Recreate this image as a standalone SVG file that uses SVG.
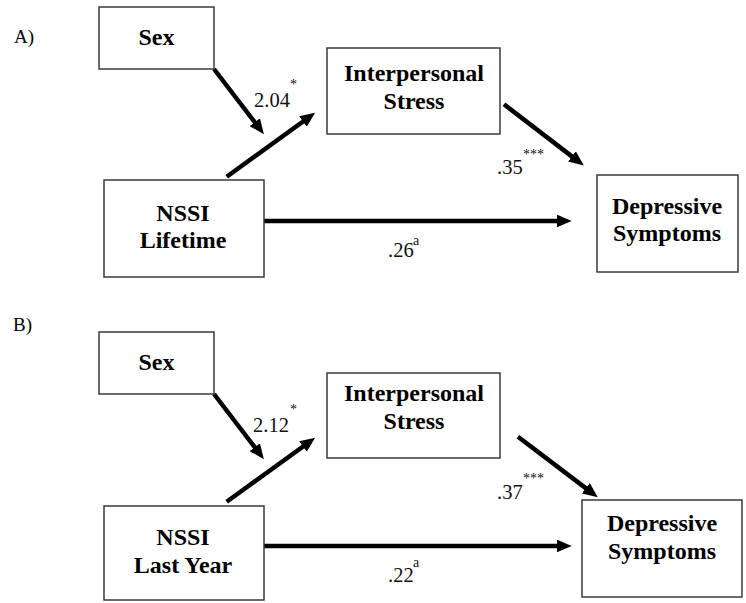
<svg xmlns="http://www.w3.org/2000/svg" width="746" height="603" viewBox="0 0 746 603">
<defs>
<marker id="ah" markerUnits="userSpaceOnUse" markerWidth="16" markerHeight="14" refX="4" refY="6.5" orient="auto">
<path d="M0,0 L15,6.5 L0,13 z" fill="#000"/>
</marker>
<style>
.box{fill:#fff;stroke:#3a3a3a;stroke-width:1.5}
.lbl{font-family:"Liberation Serif","Times New Roman",serif;font-weight:bold;font-size:24px;text-anchor:middle;fill:#000}
.coef{font-family:"Liberation Serif","Times New Roman",serif;font-size:20.5px;fill:#111}
.sup{font-family:"Liberation Serif","Times New Roman",serif;font-size:14px;fill:#111}
.panel{font-family:"Liberation Serif","Times New Roman",serif;font-size:19px;fill:#000}
.arr{stroke:#000;stroke-width:4.5;fill:none;marker-end:url(#ah)}
</style>
</defs>
<rect width="746" height="603" fill="#fff"/>
<text class="panel" x="14" y="43">A)</text>
<text class="panel" x="13" y="331">B)</text>
<g id="connectors">
<line class="arr" x1="214" y1="69" x2="257.2" y2="125.4"/>
<line class="arr" x1="226.7" y1="176.7" x2="306.2" y2="119.2"/>
<line class="arr" x1="504" y1="104.3" x2="575.1" y2="158.9"/>
<line class="arr" x1="264" y1="221" x2="560.7" y2="221"/>
<line class="arr" x1="214" y1="394" x2="257.2" y2="450.4"/>
<line class="arr" x1="226.7" y1="501.7" x2="306.2" y2="444.2"/>
<line class="arr" x1="518" y1="436.7" x2="589" y2="490.6"/>
<line class="arr" x1="264" y1="546" x2="560.7" y2="546"/>
<text class="coef" x="254" y="107">2.04</text><text class="sup" x="290" y="89">*</text>
<text class="coef" x="497" y="174">.35</text><text class="sup" x="523" y="158.5">***</text>
<text class="coef" x="388" y="256.7">.26</text><text class="sup" x="413" y="245">a</text>
<text class="coef" x="253" y="432">2.12</text><text class="sup" x="290" y="414">*</text>
<text class="coef" x="497" y="499.3">.37</text><text class="sup" x="523" y="483">***</text>
<text class="coef" x="388" y="581.7">.22</text><text class="sup" x="413" y="567">a</text>
</g>
<g id="a-sex">
<rect class="box" x="99" y="7" width="115" height="62"/>
<text class="lbl" x="156.5" y="45">Sex</text>
</g>
<g id="a-interpersonal">
<rect class="box" x="327" y="48" width="173" height="86"/>
<text class="lbl" x="414" y="81">Interpersonal</text>
<text class="lbl" x="414" y="108.5">Stress</text>
</g>
<g id="a-nssi">
<rect class="box" x="104" y="180" width="160" height="97"/>
<text class="lbl" x="183" y="220.7">NSSI</text>
<text class="lbl" x="183" y="248.3">Lifetime</text>
</g>
<g id="a-depressive">
<rect class="box" x="597" y="175" width="141" height="97"/>
<text class="lbl" x="667" y="213.5">Depressive</text>
<text class="lbl" x="667" y="241">Symptoms</text>
</g>
<g id="b-sex">
<rect class="box" x="99" y="332" width="115" height="62"/>
<text class="lbl" x="156.5" y="370">Sex</text>
</g>
<g id="b-interpersonal">
<rect class="box" x="327" y="373" width="173" height="85"/>
<text class="lbl" x="414" y="401">Interpersonal</text>
<text class="lbl" x="414" y="429">Stress</text>
</g>
<g id="b-nssi">
<rect class="box" x="104" y="506" width="160" height="94"/>
<text class="lbl" x="183" y="545">NSSI</text>
<text class="lbl" x="183" y="573">Last Year</text>
</g>
<g id="b-depressive">
<rect class="box" x="582" y="500" width="160" height="97"/>
<text class="lbl" x="662" y="531">Depressive</text>
<text class="lbl" x="662" y="558.5">Symptoms</text>
</g>
</svg>
